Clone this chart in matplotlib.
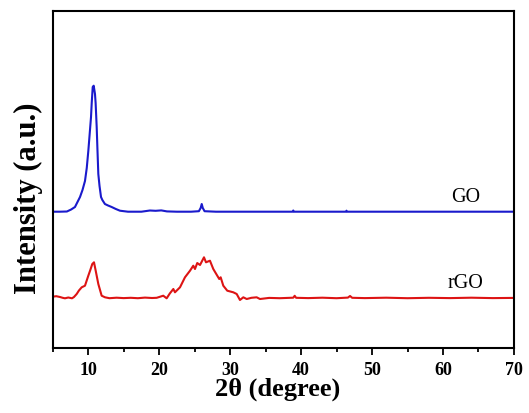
import numpy as np
import matplotlib
matplotlib.use("Agg")
import matplotlib.pyplot as plt
from matplotlib.ticker import MultipleLocator

plt.rcParams['font.family'] = ['Liberation Serif', 'DejaVu Serif']

# GO pattern (2theta, intensity a.u.)
go_x = [5.0, 6.0, 7.0, 7.6, 8.14, 8.85, 9.2, 9.55, 9.8, 10.02, 10.2, 10.40, 10.5, 10.64,
        10.78, 10.96, 11.05, 11.20, 11.3, 11.43, 11.6, 11.81, 12.0, 12.36, 12.8, 13.31,
        13.9, 14.48, 15.61, 17.5, 18.7, 19.5, 20.3, 21.1, 22.5, 24.5, 25.6, 25.85, 26.0,
        26.15, 26.4, 28.0, 32.0, 36.0, 38.8, 38.9, 39.0, 42.0, 46.3, 46.4, 46.5, 50.0,
        55.0, 60.0, 65.0, 70.0]
go_y = [136.3, 136.3, 136.5, 138.5, 141, 151, 158, 167, 180, 197, 213, 231, 245, 261,
        262.3, 254, 245, 221, 200, 174, 162, 151, 148, 144, 142.5, 141,
        139, 137.3, 136.3, 136.3, 137.5, 137.2, 137.6, 136.6, 136.3, 136.3, 136.8, 140, 144,
        140, 136.8, 136.3, 136.3, 136.3, 136.3, 137.5, 136.3, 136.3, 136.3, 137.3, 136.3, 136.3,
        136.3, 136.3, 136.3, 136.3]

# rGO pattern
rgo_x = [5.0, 5.5, 6.03, 6.4, 6.73, 7.2, 7.72, 8.0, 8.38, 8.7, 9.09, 9.55, 10.02, 10.3, 10.58,
         10.82, 11.06, 11.43, 11.90, 12.37, 13.0, 14.0, 15.0, 16.0, 17.0, 18.0, 19.0,
         19.65, 20.1, 20.58, 21.06, 21.5, 22.0, 22.23, 22.94, 23.64, 24.35, 24.81, 25.05,
         25.37, 25.76, 26.32, 26.60, 27.16, 27.63, 28.19, 28.47, 28.67, 29.04, 29.60,
         30.45, 30.93, 31.39, 31.86, 32.34, 33.0, 33.74, 34.21, 35.5, 37.0, 38.9, 39.1,
         39.3, 41.0, 43.0, 45.0, 46.6, 46.9, 47.2, 49.0, 52.0, 55.0, 58.0, 61.0, 64.0,
         67.0, 70.0]
rgo_y = [51.3, 51.8, 51, 50.2, 49.7, 50.5, 49.7, 51, 54, 57.5, 60.7, 62.3, 72.3, 78, 84,
         85.7, 77.3, 64, 52.3, 50.7, 49.8, 50.3, 49.9, 50.2, 49.8, 50.4, 50.0,
         50.2, 51.2, 52.3, 49.7, 54.5, 59, 55.7, 60.7, 70.7, 77.3, 82.3, 79,
         85, 83, 90.7, 85.7, 87.3, 79, 72.3, 69, 70.7, 62.3, 57.3,
         55.7, 54, 48, 50.7, 49, 50.2, 50.7, 49, 50.1, 49.8, 50.3, 52.2,
         50.2, 49.9, 50.3, 49.8, 50.4, 52, 50.2, 49.9, 50.3, 49.8, 50.2, 49.9, 50.3,
         49.9, 50.1]

fig = plt.figure(figsize=(5.29, 4.14), dpi=100)
ax = fig.add_axes([0.0996, 0.157, 0.872, 0.814])

ax.plot(go_x, go_y, color='#1a1acc', lw=1.5)
ax.plot(rgo_x, rgo_y, color='#dd1414', lw=1.5)

ax.text(0.895, 136.3 + 6, 'GO', transform=ax.get_yaxis_transform(),
        ha='center', va='bottom', fontsize=14.5)
ax.text(0.895, 50 + 6, 'rGO', transform=ax.get_yaxis_transform(),
        ha='center', va='bottom', fontsize=14.5)

ax.set_xlim(5, 70)
ax.set_ylim(0, 337)
ax.xaxis.set_major_locator(MultipleLocator(10))
ax.xaxis.set_minor_locator(MultipleLocator(5))
ax.set_yticks([])
ax.tick_params(axis='x', which='major', direction='out', length=5, width=1.3,
               labelsize=13, pad=4, top=False)
ax.tick_params(axis='x', which='minor', direction='out', length=3, width=1.3, top=False)
for lab in ax.get_xticklabels():
    lab.set_fontweight('bold')
for sp in ax.spines.values():
    sp.set_linewidth(1.5)

ax.set_xlabel('2θ (degree)', fontsize=19, fontweight='bold', labelpad=0)
ax.xaxis.set_label_coords(0.487, -0.085)
ax.set_ylabel('Intensity (a.u.)', fontsize=22, fontweight='bold')
ax.yaxis.set_label_coords(-0.022, 0.448)

fig.savefig('out.png', dpi=100)
